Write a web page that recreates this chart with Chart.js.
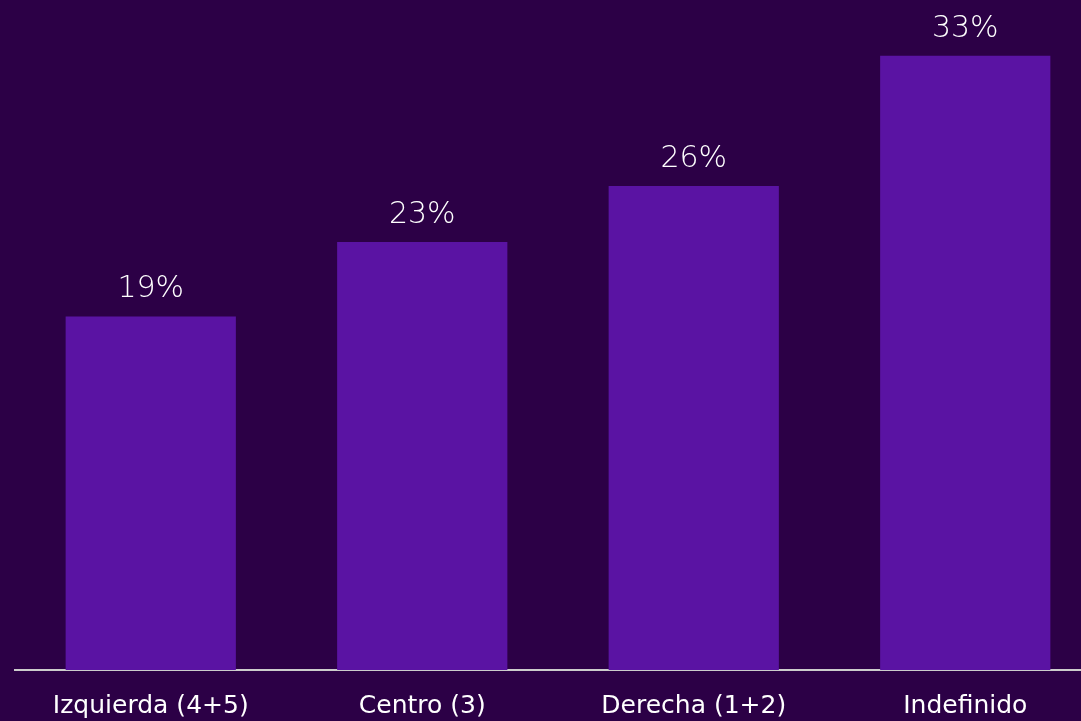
<!DOCTYPE html>
<html>
<head>
<meta charset="utf-8">
<script src="https://cdn.jsdelivr.net/npm/chart.js@4"></script>
<style>
  html, body { margin: 0; padding: 0; background: #2c0046; overflow: hidden; }
  #wrap { position: absolute; left: 0; top: 0; width: 1101px; height: 721px; }
</style>
</head>
<body>
<div id="wrap"><canvas id="grafico" width="1101" height="721"></canvas></div>
<script>
// Datos del gráfico
const categorias = ['Izquierda (4+5)', 'Centro (3)', 'Derecha (1+2)', 'Indefinido'];
const valores = [19, 23, 26, 33];
const etiquetas = ['19%', '23%', '26%', '33%'];

// Dibuja el porcentaje encima de cada barra
const etiquetasPlugin = {
    id: 'etiquetas',
    afterDatasetsDraw(chart) {
        const ctx = chart.ctx;
        const meta = chart.getDatasetMeta(0);
        ctx.save();
        ctx.fillStyle = '#ffffff';
        ctx.font = '300 30px "DejaVu Sans", sans-serif';
        ctx.textAlign = 'center';
        ctx.textBaseline = 'bottom';
        meta.data.forEach((bar, i) => {
            ctx.fillText(etiquetas[i], bar.x, bar.y - 12);
        });
        ctx.restore();
    }
};

new Chart(document.getElementById('grafico').getContext('2d'), {
    type: 'bar',
    data: {
        labels: categorias,
        datasets: [{
            data: valores,
            backgroundColor: '#5a13a3',
            borderWidth: 0,
            categoryPercentage: 1,
            barPercentage: 0.627
        }]
    },
    options: {
        responsive: false,
        animation: false,
        layout: { padding: { left: 15, right: 0, top: 0, bottom: 0 } },
        plugins: { legend: { display: false }, tooltip: { enabled: false } },
        scales: {
            x: {
                grid: { display: false, drawTicks: false },
                border: { color: '#cccccc', width: 2 },
                ticks: {
                    color: '#ffffff',
                    padding: 21,
                    maxRotation: 0,
                    font: { family: '"DejaVu Sans", sans-serif', size: 25 }
                },
                afterFit(scale) { scale.height = 51; }
            },
            y: {
                display: false,
                min: 0,
                max: 36
            }
        }
    },
    plugins: [etiquetasPlugin]
});
</script>
</body>
</html>
